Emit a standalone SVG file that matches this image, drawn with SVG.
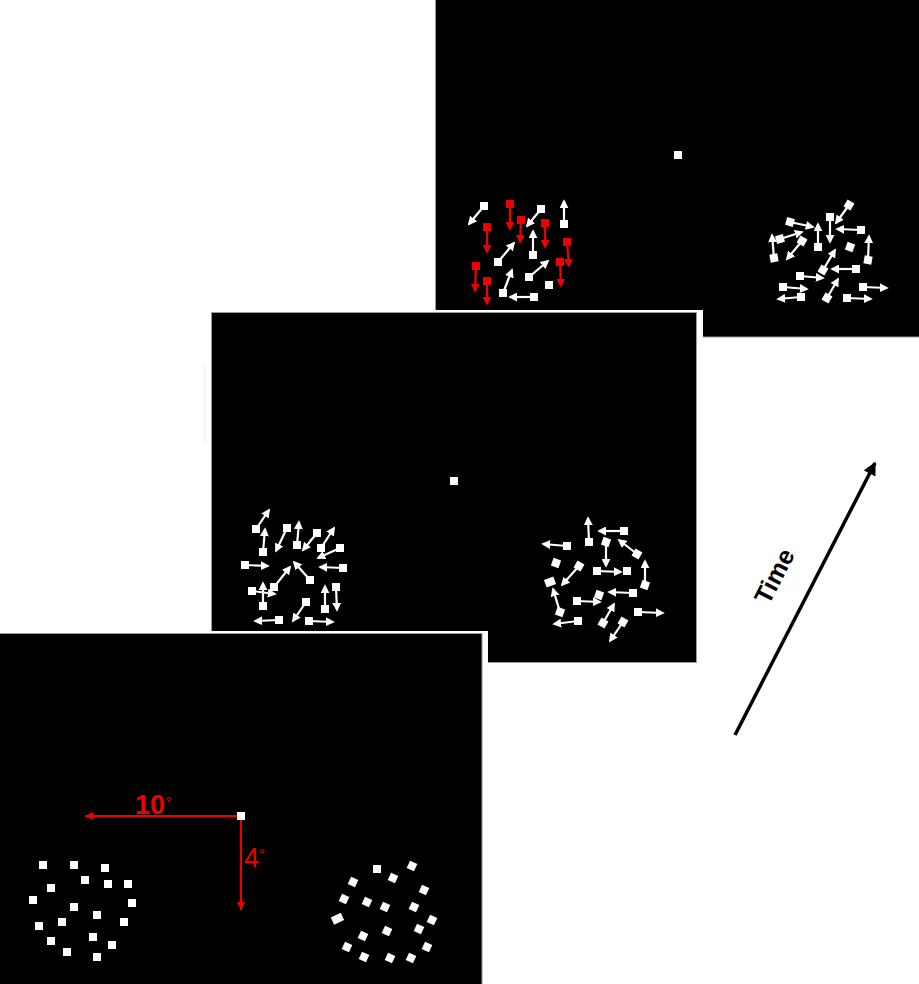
<svg xmlns="http://www.w3.org/2000/svg" xmlns:xlink="http://www.w3.org/1999/xlink" width="919" height="984" viewBox="0 0 919 984">
<style>
.panel{fill:#000;stroke:#9a9a9a;stroke-width:1}
.w{fill:#fff}
.r{fill:#ee0000}
.aw{stroke:#fff;stroke-width:2.2;fill:none;marker-end:url(#hw)}
.ar{stroke:#ee0000;stroke-width:2.2;fill:none;marker-end:url(#hr)}
.red{stroke:#ee0000;stroke-width:2;fill:none}
.lbl{font-family:"Liberation Sans",Arial,sans-serif;fill:#ee0000}
</style>
<defs>
<rect id="s" x="-4" y="-4" width="8" height="8"/>
<marker id="hw" viewBox="0 0 10 10" refX="8" refY="5" markerWidth="9" markerHeight="9" markerUnits="userSpaceOnUse" orient="auto"><path d="M0,0 L10,5 L0,10 z" fill="#fff"/></marker>
<marker id="hr" viewBox="0 0 10 10" refX="8" refY="5" markerWidth="9" markerHeight="9" markerUnits="userSpaceOnUse" orient="auto"><path d="M0,0 L10,5 L0,10 z" fill="#ee0000"/></marker>
<marker id="hred" viewBox="0 0 10 10" refX="10" refY="5" markerWidth="8" markerHeight="8" markerUnits="userSpaceOnUse" orient="auto"><path d="M0,0 L10,5 L0,10 z" fill="#ee0000"/></marker>
<marker id="hk" viewBox="0 0 10 10" refX="9" refY="5" markerWidth="15" markerHeight="13" markerUnits="userSpaceOnUse" orient="auto"><path d="M0,0 L10,5 L0,10 z" fill="#000"/></marker>
<linearGradient id="sh" x1="0" y1="0" x2="1" y2="0"><stop offset="0" stop-color="#fff"/><stop offset="1" stop-color="#d8d8d8"/></linearGradient>
</defs>
<rect width="919" height="984" fill="#fff"/>

<g id="panel-top">
<rect class="panel" x="435.5" y="-1" width="484" height="338"/>
<use href="#s" class="w" x="678" y="155" transform="scale(1)"/>
<g id="top-left-cluster">
<line class="aw" x1="484" y1="206" x2="469" y2="224"/><use href="#s" class="w" x="484" y="206"/>
<line class="ar" x1="510" y1="204" x2="510" y2="229"/><use href="#s" class="r" x="510" y="204"/>
<line class="aw" x1="541" y1="209" x2="527" y2="226"/><use href="#s" class="w" x="541" y="209"/>
<line class="aw" x1="564" y1="224" x2="564" y2="201"/><use href="#s" class="w" x="564" y="224"/>
<line class="ar" x1="487" y1="227" x2="487" y2="252"/><use href="#s" class="r" x="487" y="227"/>
<line class="ar" x1="521" y1="220" x2="520" y2="242"/><use href="#s" class="r" x="521" y="220"/>
<line class="aw" x1="533" y1="255" x2="533" y2="231"/><use href="#s" class="w" x="533" y="255"/>
<line class="ar" x1="545" y1="223" x2="545" y2="247"/><use href="#s" class="r" x="545" y="223"/>
<line class="ar" x1="567" y1="242" x2="569" y2="266"/><use href="#s" class="r" x="567" y="242"/>
<line class="aw" x1="498" y1="262" x2="514" y2="243"/><use href="#s" class="w" x="498" y="262"/>
<line class="aw" x1="529" y1="277" x2="548" y2="261"/><use href="#s" class="w" x="529" y="277"/>
<line class="ar" x1="560" y1="262" x2="561" y2="286"/><use href="#s" class="r" x="560" y="262"/>
<line class="ar" x1="476" y1="266" x2="475" y2="291"/><use href="#s" class="r" x="476" y="266"/>
<line class="ar" x1="487" y1="281" x2="487" y2="304"/><use href="#s" class="r" x="487" y="281"/>
<line class="aw" x1="503" y1="293" x2="512" y2="270"/><use href="#s" class="w" x="503" y="293"/>
<use href="#s" class="w" x="549" y="285"/>
<line class="aw" x1="534" y1="297" x2="510" y2="297"/><use href="#s" class="w" x="534" y="297"/>
</g>
<g id="top-right-cluster">
<line class="aw" x1="849" y1="205" x2="836" y2="223"/><use href="#s" class="w" x="849" y="205" transform="rotate(30 849 205)"/>
<line class="aw" x1="790" y1="222" x2="813" y2="227"/><use href="#s" class="w" x="790" y="222" transform="rotate(15 790 222)"/>
<line class="aw" x1="830" y1="217" x2="830" y2="242"/><use href="#s" class="w" x="830" y="217"/>
<line class="aw" x1="818" y1="247" x2="818" y2="224"/><use href="#s" class="w" x="818" y="247"/>
<line class="aw" x1="861" y1="230" x2="837" y2="229"/><use href="#s" class="w" x="861" y="230"/>
<line class="aw" x1="780" y1="239" x2="802" y2="232"/><use href="#s" class="w" x="780" y="239" transform="rotate(-15 780 239)"/>
<line class="aw" x1="802" y1="241" x2="787" y2="259"/><use href="#s" class="w" x="802" y="241" transform="rotate(30 802 241)"/>
<line class="aw" x1="774" y1="258" x2="772" y2="235"/><use href="#s" class="w" x="774" y="258" transform="rotate(-10 774 258)"/>
<use href="#s" class="w" x="850" y="247" transform="rotate(20 850 247)"/>
<line class="aw" x1="868" y1="260" x2="869" y2="236"/><use href="#s" class="w" x="868" y="260" transform="rotate(10 868 260)"/>
<line class="aw" x1="823" y1="270" x2="835" y2="250"/><use href="#s" class="w" x="823" y="270" transform="rotate(30 823 270)"/>
<line class="aw" x1="856" y1="269" x2="832" y2="269"/><use href="#s" class="w" x="856" y="269"/>
<line class="aw" x1="800" y1="276" x2="823" y2="278"/><use href="#s" class="w" x="800" y="276"/>
<line class="aw" x1="783" y1="287" x2="807" y2="289"/><use href="#s" class="w" x="783" y="287"/>
<line class="aw" x1="827" y1="298" x2="838" y2="279"/><use href="#s" class="w" x="827" y="298" transform="rotate(30 827 298)"/>
<line class="aw" x1="863" y1="287" x2="887" y2="288"/><use href="#s" class="w" x="863" y="287"/>
<line class="aw" x1="801" y1="297" x2="778" y2="299"/><use href="#s" class="w" x="801" y="297"/>
<line class="aw" x1="847" y1="298" x2="871" y2="299"/><use href="#s" class="w" x="847" y="298"/>
</g>
</g>

<g id="panel-middle">
<rect x="202" y="365" width="9" height="80" fill="url(#sh)" opacity="0.6"/>
<rect x="206" y="310" width="497" height="358" fill="#fff"/>
<rect class="panel" x="211.5" y="312.5" width="485" height="350"/>
<use href="#s" class="w" x="454" y="481"/>
<g id="middle-left-cluster">
<line class="aw" x1="256" y1="529" x2="269" y2="510"/><use href="#s" class="w" x="256" y="529"/>
<line class="aw" x1="263" y1="552" x2="265" y2="529"/><use href="#s" class="w" x="263" y="552"/>
<line class="aw" x1="287" y1="528" x2="276" y2="551"/><use href="#s" class="w" x="287" y="528"/>
<line class="aw" x1="297" y1="545" x2="299" y2="522"/><use href="#s" class="w" x="297" y="545"/>
<line class="aw" x1="317" y1="533" x2="303" y2="550"/><use href="#s" class="w" x="317" y="533"/>
<line class="aw" x1="321" y1="548" x2="334" y2="528"/><use href="#s" class="w" x="321" y="548"/>
<line class="aw" x1="340" y1="548" x2="318" y2="558"/><use href="#s" class="w" x="340" y="548"/>
<line class="aw" x1="245" y1="565" x2="268" y2="566"/><use href="#s" class="w" x="245" y="565"/>
<line class="aw" x1="310" y1="580" x2="294" y2="562"/><use href="#s" class="w" x="310" y="580"/>
<line class="aw" x1="343" y1="568" x2="320" y2="567"/><use href="#s" class="w" x="343" y="568"/>
<line class="aw" x1="274" y1="587" x2="290" y2="567"/><use href="#s" class="w" x="274" y="587"/>
<line class="aw" x1="252" y1="591" x2="275" y2="594"/><use href="#s" class="w" x="252" y="591"/>
<line class="aw" x1="263" y1="606" x2="263" y2="583"/><use href="#s" class="w" x="263" y="606"/>
<line class="aw" x1="336" y1="587" x2="337" y2="610"/><use href="#s" class="w" x="336" y="587"/>
<line class="aw" x1="325" y1="609" x2="325" y2="586"/><use href="#s" class="w" x="325" y="609"/>
<line class="aw" x1="306" y1="602" x2="293" y2="621"/><use href="#s" class="w" x="306" y="602"/>
<line class="aw" x1="279" y1="620" x2="255" y2="621"/><use href="#s" class="w" x="279" y="620"/>
<line class="aw" x1="309" y1="621" x2="333" y2="622"/><use href="#s" class="w" x="309" y="621"/>
</g>
<g id="middle-right-cluster">
<line class="aw" x1="589" y1="542" x2="588" y2="518"/><use href="#s" class="w" x="589" y="542"/>
<line class="aw" x1="624" y1="531" x2="599" y2="531"/><use href="#s" class="w" x="624" y="531"/>
<line class="aw" x1="567" y1="546" x2="543" y2="544"/><use href="#s" class="w" x="567" y="546"/>
<line class="aw" x1="606" y1="542" x2="606" y2="566"/><use href="#s" class="w" x="606" y="542" transform="rotate(20 606 542)"/>
<line class="aw" x1="637" y1="554" x2="619" y2="540"/><use href="#s" class="w" x="637" y="554" transform="rotate(30 637 554)"/>
<use href="#s" class="w" x="556" y="563" transform="rotate(20 556 563)"/>
<line class="aw" x1="579" y1="566" x2="562" y2="585"/><use href="#s" class="w" x="579" y="566" transform="rotate(30 579 566)"/>
<line class="aw" x1="597" y1="571" x2="621" y2="572"/><use href="#s" class="w" x="597" y="571"/>
<use href="#s" class="w" x="627" y="571"/>
<line class="aw" x1="645" y1="585" x2="645" y2="561"/><use href="#s" class="w" x="645" y="585" transform="rotate(20 645 585)"/>
<rect class="w" x="545" y="578" width="10" height="8" transform="rotate(-20 550 582)"/>
<use href="#s" class="w" x="599" y="595" transform="rotate(20 599 595)"/>
<line class="aw" x1="633" y1="593" x2="609" y2="592"/><use href="#s" class="w" x="633" y="593"/>
<line class="aw" x1="560" y1="612" x2="553" y2="589"/><use href="#s" class="w" x="560" y="612" transform="rotate(20 560 612)"/>
<line class="aw" x1="577" y1="601" x2="600" y2="602"/><use href="#s" class="w" x="577" y="601"/>
<line class="aw" x1="638" y1="612" x2="663" y2="613"/><use href="#s" class="w" x="638" y="612"/>
<line class="aw" x1="578" y1="621" x2="554" y2="624"/><use href="#s" class="w" x="578" y="621"/>
<line class="aw" x1="603" y1="623" x2="614" y2="604"/><use href="#s" class="w" x="603" y="623" transform="rotate(30 603 623)"/>
<line class="aw" x1="623" y1="622" x2="610" y2="641"/><use href="#s" class="w" x="623" y="622" transform="rotate(30 623 622)"/>
</g>
</g>

<g id="panel-bottom">
<rect x="0" y="631" width="488" height="353" fill="#fff"/>
<rect class="panel" x="-1" y="633.5" width="483" height="352"/>
<g id="bottom-left-cluster">
<use href="#s" class="w" x="43" y="865"/>
<use href="#s" class="w" x="74" y="865"/>
<use href="#s" class="w" x="105" y="868"/>
<use href="#s" class="w" x="85" y="880"/>
<use href="#s" class="w" x="108" y="884"/>
<use href="#s" class="w" x="128" y="884"/>
<use href="#s" class="w" x="51" y="888"/>
<use href="#s" class="w" x="33" y="900"/>
<use href="#s" class="w" x="74" y="907"/>
<use href="#s" class="w" x="132" y="903"/>
<use href="#s" class="w" x="97" y="915"/>
<use href="#s" class="w" x="62" y="922"/>
<use href="#s" class="w" x="124" y="922"/>
<use href="#s" class="w" x="39" y="926"/>
<use href="#s" class="w" x="93" y="937"/>
<use href="#s" class="w" x="51" y="941"/>
<use href="#s" class="w" x="112" y="945"/>
<use href="#s" class="w" x="67" y="952"/>
<use href="#s" class="w" x="97" y="957"/>
</g>
<g id="bottom-right-cluster">
<use href="#s" class="w" x="377" y="869"/>
<use href="#s" class="w" x="412" y="866" transform="rotate(25 412 866)"/>
<use href="#s" class="w" x="353" y="882" transform="rotate(25 353 882)"/>
<use href="#s" class="w" x="393" y="878" transform="rotate(25 393 878)"/>
<use href="#s" class="w" x="424" y="890" transform="rotate(25 424 890)"/>
<use href="#s" class="w" x="344" y="899" transform="rotate(25 344 899)"/>
<use href="#s" class="w" x="367" y="902" transform="rotate(25 367 902)"/>
<use href="#s" class="w" x="385" y="907" transform="rotate(25 385 907)"/>
<use href="#s" class="w" x="414" y="907" transform="rotate(25 414 907)"/>
<rect class="w" x="332" y="915" width="11" height="8" transform="rotate(-25 337 919)"/>
<use href="#s" class="w" x="432" y="920" transform="rotate(25 432 920)"/>
<use href="#s" class="w" x="363" y="936" transform="rotate(25 363 936)"/>
<use href="#s" class="w" x="387" y="931" transform="rotate(25 387 931)"/>
<use href="#s" class="w" x="419" y="929" transform="rotate(25 419 929)"/>
<use href="#s" class="w" x="347" y="947" transform="rotate(25 347 947)"/>
<use href="#s" class="w" x="427" y="947" transform="rotate(25 427 947)"/>
<use href="#s" class="w" x="364" y="957" transform="rotate(25 364 957)"/>
<use href="#s" class="w" x="390" y="958" transform="rotate(25 390 958)"/>
<use href="#s" class="w" x="411" y="958" transform="rotate(25 411 958)"/>
</g>
<g id="eccentricity">
<line class="red" x1="240" y1="816" x2="85" y2="816" marker-end="url(#hred)"/>
<line class="red" x1="241" y1="818" x2="241" y2="910" marker-end="url(#hred)"/>
<use href="#s" class="w" x="241" y="816"/>
<text class="lbl" x="135" y="814" font-size="27" font-weight="bold">10</text>
<text class="lbl" x="165.5" y="806.5" font-size="15">°</text>
<text class="lbl" x="244" y="867" font-size="27">4</text>
<text class="lbl" x="259" y="859" font-size="15">°</text>
</g>
</g>

<g id="time-axis">
<line x1="735" y1="735" x2="875" y2="463" stroke="#000" stroke-width="3.5" marker-end="url(#hk)"/>
<text x="774" y="576" font-family="'Liberation Sans',Arial,sans-serif" font-size="25" font-weight="bold" fill="#000" text-anchor="middle" dominant-baseline="central" transform="rotate(-62.8 774 576)">Time</text>
</g>
</svg>
